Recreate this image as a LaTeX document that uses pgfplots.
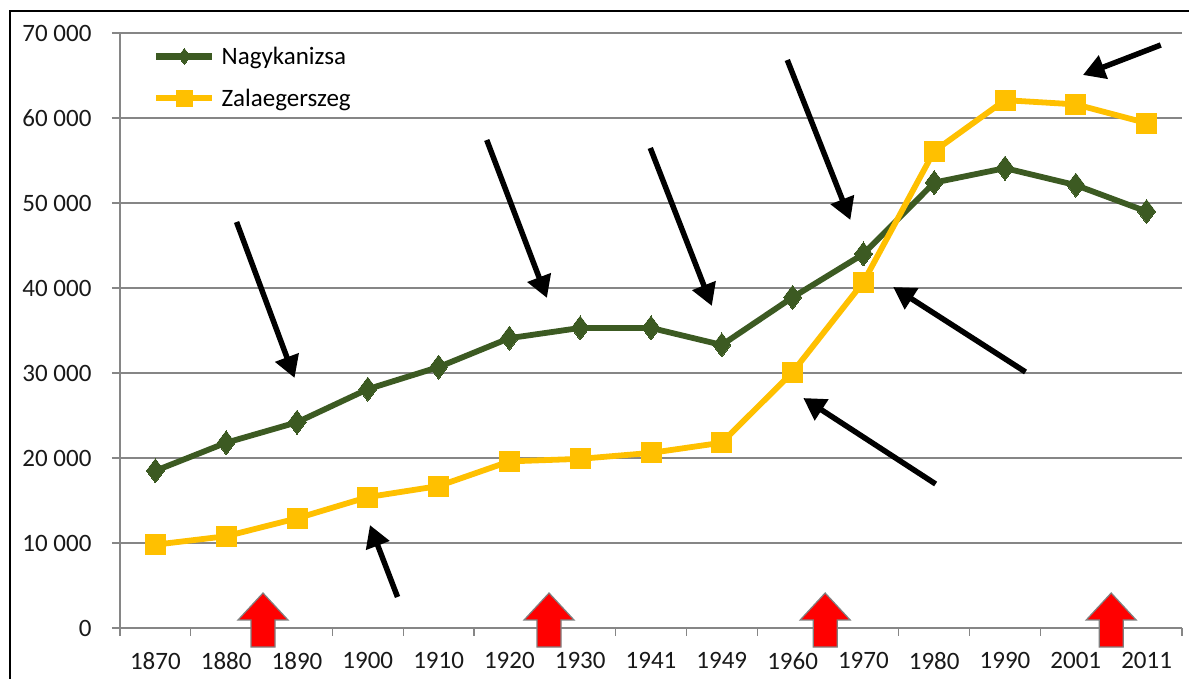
\documentclass[border=0pt]{standalone}
\usepackage{fontspec}
\setmainfont{Carlito}
\usepackage{pgfplots}
\pgfplotsset{compat=1.18}
\usetikzlibrary{arrows.meta}
\definecolor{nagy}{HTML}{3C5A22}
\definecolor{zala}{HTML}{FFC000}
\definecolor{axgray}{HTML}{868686}
\newcommand{\redarrow}[1]{\draw[fill=red, draw=gray, line width=1.2bp, line join=miter, shift={(axis cs:#1,0)}] (-12bp,-19bp) -- (12bp,-19bp) -- (12bp,8bp) -- (25bp,8bp) -- (0bp,35bp) -- (-25bp,8bp) -- (-12bp,8bp) -- cycle;}
\newcommand{\blackarrow}[4]{\draw[black, line width=5.5bp, -{Triangle[length=22bp,width=24bp]}] (axis cs:#1,#2) -- (axis cs:#3,#4);}
\begin{document}
\begin{tikzpicture}
\clip (0,0) rectangle (1189bp,679bp);
\fill[white] (0,0) rectangle (1189bp,679bp);
\draw[black, line width=1.6bp] (10bp,-10bp) -- (10bp,668bp) -- (1200bp,668bp);
\begin{axis}[
  at={(120bp,51bp)}, anchor=south west,
  scale only axis, width=1062bp, height=595bp,
  xmin=-0.5, xmax=14.5, ymin=0, ymax=70000,
  clip=false,
  scaled y ticks=false,
  axis x line=bottom, axis y line=left,
  axis line style={-, draw=axgray, line width=1.3bp},
  xtick={0,...,14},
  xticklabels={1870,1880,1890,1900,1910,1920,1930,1941,1949,1960,1970,1980,1990,2001,2011},
  minor xtick={-0.5,0.5,...,14.5},
  ytick={0,10000,20000,30000,40000,50000,60000,70000},
  yticklabels={0,10 000,20 000,30 000,40 000,50 000,60 000,70 000},
  tick align=outside,
  major tick length=8bp, minor tick length=8bp,
  major x tick style={draw=none},
  minor x tick style={draw=axgray, line width=1.3bp},
  y tick style={draw=axgray, line width=1.3bp},
  ymajorgrids,
  grid style={draw=axgray, line width=1.3bp},
  tick label style={font=\fontsize{25bp}{30bp}\selectfont, text=black!90},
  xticklabel style={yshift=-13bp},
  yticklabel style={xshift=-17bp},
  legend style={draw=none, fill=none, at={(rel axis cs:0.031,0.982)}, anchor=north west,
    font=\fontsize{25bp}{30bp}\selectfont, inner sep=0pt, row sep=17bp,
    nodes={inner sep=3bp}},
  legend cell align=left,
  legend image code/.code={\draw[#1, line width=6.5bp, mark repeat=2, mark phase=2, mark size=8bp] plot coordinates {(0bp,0bp) (28bp,0bp) (56bp,0bp)};},
]
\addplot[color=nagy, line width=5.8bp, line join=round, mark=diamond*, mark size=12bp, mark options={solid, line width=0pt}] coordinates {
(0,18500) (1,21800) (2,24200) (3,28100) (4,30700) (5,34100) (6,35300) (7,35300) (8,33300) (9,38900) (10,44000) (11,52400) (12,54100) (13,52100) (14,49000)};
\addlegendentry{\hspace*{3bp}Nagykanizsa}
\addplot[color=zala, line width=5.8bp, line join=round, mark=square*, mark size=10bp, mark options={solid, line width=0pt}] coordinates {
(0,9800) (1,10800) (2,12900) (3,15400) (4,16700) (5,19600) (6,19900) (7,20600) (8,21800) (9,30100) (10,40700) (11,56100) (12,62100) (13,61600) (14,59400)};
\addlegendentry{\hspace*{3bp}Zalaegerszeg}
\blackarrow{1.146}{47765}{1.966}{29412}
\blackarrow{4.68}{57412}{5.53}{38824}
\blackarrow{6.99}{56471}{7.86}{37882}
\blackarrow{8.925}{66824}{9.816}{48000}
\blackarrow{14.2}{68588}{13.1}{65059}
\blackarrow{12.29}{30118}{10.42}{40118}
\blackarrow{11.02}{16941}{9.15}{27059}
\blackarrow{3.42}{3647}{3.03}{12118}
\redarrow{1.52}
\redarrow{5.56}
\redarrow{9.46}
\redarrow{13.5}
\end{axis}
\end{tikzpicture}
\end{document}
